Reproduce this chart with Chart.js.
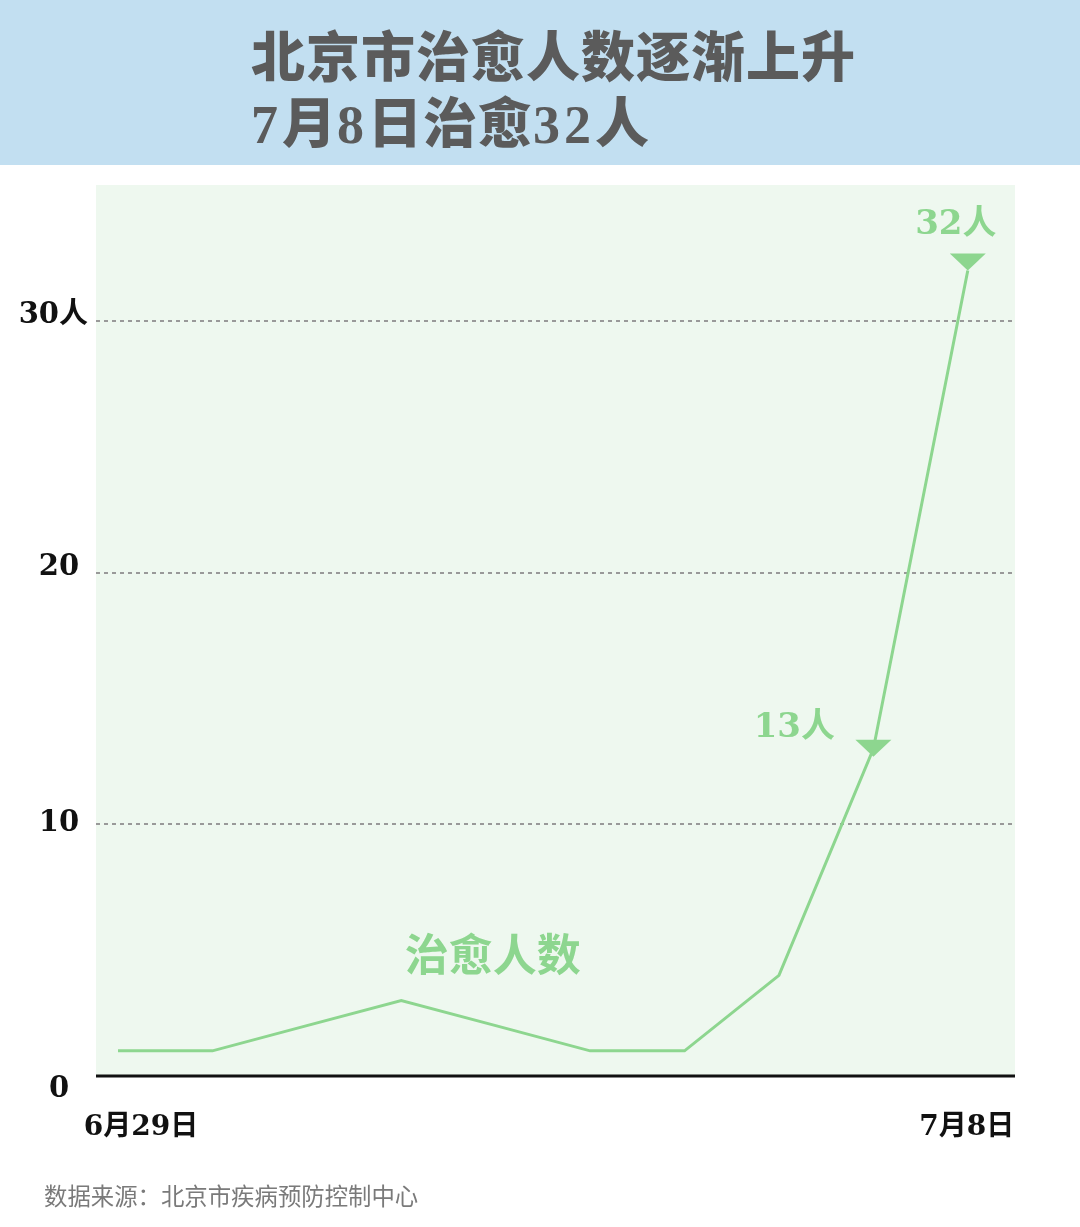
<!DOCTYPE html>
<html><head><meta charset="utf-8">
<script src="https://cdn.jsdelivr.net/npm/chart.js@4/dist/chart.umd.min.js"></script>
<style>
html,body{margin:0;padding:0;background:#fff;}
#wrap{position:relative;width:1080px;height:1227px;overflow:hidden;}
#head{position:absolute;left:0;top:0;width:1080px;height:165px;background:#c2dff1;}
#title{position:absolute;left:251px;top:26px;color:#5b5b5b;font-family:"Liberation Serif","Noto Sans CJK SC",serif;font-weight:900;font-size:54px;line-height:66px;letter-spacing:1px;white-space:nowrap;}
#title .d{letter-spacing:4px;}
#src{position:absolute;left:44px;top:1178px;color:#7a7a7a;font-family:"Noto Sans CJK SC",sans-serif;font-size:23.4px;white-space:nowrap;}
canvas{position:absolute;left:0;top:0;}
</style></head>
<body><div id="wrap">
<div id="head"></div>
<div id="title">北京市治愈人数逐渐上升<br><span class="d">7</span>月<span class="d">8</span>日治愈<span class="d">32</span>人</div>
<canvas id="c" width="1080" height="1227"></canvas>
<div id="src">数据来源：北京市疾病预防控制中心</div>
</div>
<script>
const dates = ["6月29日","6月30日","7月1日","7月2日","7月3日","7月4日","7月5日","7月6日","7月7日","7月8日"];
const recovered = [1, 1, 2, 3, 2, 1, 1, 4, 13, 32];
const yTicks = [0, 10, 20, 30];
const yTickLabels = ["0", "10", "20", "30人"];
const xLabelIndices = [0, 9];
const markedIndices = [8, 9];
const seriesName = "治愈人数";

const GREEN = '#8dd68f';
const serifBold = (s) => `bold ${s}px "DejaVu Serif", "Noto Sans CJK SC", serif`;

const pts = recovered.map((v, i) => ({x: i, y: v}));

const bgPlugin = {
  id: 'bg',
  beforeDraw(chart) {
    const {ctx, chartArea: a} = chart;
    ctx.save();
    ctx.fillStyle = '#eef8ef';
    ctx.fillRect(a.left, a.top, a.right - a.left, a.bottom - a.top);
    ctx.restore();
  },
  afterDatasetsDraw(chart) {
    const {ctx, chartArea: a} = chart;
    const xs = chart.scales.x, ys = chart.scales.y;
    ctx.save();
    // baseline
    ctx.strokeStyle = '#111';
    ctx.lineWidth = 3;
    ctx.beginPath();
    ctx.moveTo(a.left, ys.getPixelForValue(0));
    ctx.lineTo(a.right, ys.getPixelForValue(0));
    ctx.stroke();
    // markers (flat downward triangles)
    ctx.fillStyle = GREEN;
    markedIndices.forEach((idx) => {
      const px = xs.getPixelForValue(idx), py = ys.getPixelForValue(recovered[idx]);
      const top = idx === recovered.length - 1 ? py - 17 : py - 9;
      ctx.beginPath();
      ctx.moveTo(px - 18, top);
      ctx.lineTo(px + 18, top);
      ctx.lineTo(px, top + 17);
      ctx.closePath();
      ctx.fill();
    });
    // y tick labels
    ctx.fillStyle = '#111';
    ctx.font = serifBold(29);
    ctx.textBaseline = 'middle';
    yTicks.forEach((t, i) => {
      const py = ys.getPixelForValue(t);
      const lab = yTickLabels[i];
      if (t === 0) { ctx.textAlign = 'center'; ctx.fillText(lab, 59, py + 13); }
      else if (lab.length > 2) { ctx.textAlign = 'right'; ctx.fillText(lab, 88, py - 5); }
      else { ctx.textAlign = 'center'; ctx.fillText(lab, 59, py - (t === 10 ? 1 : 5)); }
    });
    // x labels
    ctx.textAlign = 'center';
    ctx.font = serifBold(28);
    xLabelIndices.forEach((idx, k) => {
      const px = xs.getPixelForValue(idx) + (k === 0 ? 23 : -1);
      ctx.fillText(dates[idx], px, 1128);
    });
    // value labels
    ctx.fillStyle = GREEN;
    ctx.font = serifBold(34);
    markedIndices.forEach((idx) => {
      const px = xs.getPixelForValue(idx), py = ys.getPixelForValue(recovered[idx]);
      const txt = recovered[idx] + '人';
      if (idx === recovered.length - 1) ctx.fillText(txt, px - 12, py - 45);
      else ctx.fillText(txt, px - 79, py - 21);
    });
    // series name
    ctx.font = 'bold 44px "Noto Sans CJK SC", sans-serif';
    ctx.fillText(seriesName, xs.getPixelForValue(4) - 3, ys.getPixelForValue(4.85));
    ctx.restore();
  }
};

new Chart(document.getElementById('c'), {
  type: 'line',
  data: {
    datasets: [{
      label: seriesName,
      data: pts,
      borderColor: GREEN,
      borderWidth: 3,
      tension: 0,
      pointRadius: 0,
      clip: false
    }]
  },
  options: {
    responsive: false,
    animation: false,
    devicePixelRatio: 1,
    layout: {padding: {left: 96, right: 65, top: 185, bottom: 151}},
    plugins: {legend: {display: false}, tooltip: {enabled: false}},
    scales: {
      x: {
        type: 'linear', min: -0.233, max: 9.5,
        afterFit: s => { s.height = 0; },
        ticks: {display: false},
        grid: {display: false},
        border: {display: false}
      },
      y: {
        min: 0, max: 35.4,
        afterFit: s => { s.width = 0; },
        afterBuildTicks: s => { s.ticks = yTicks.map(v => ({value: v})); },
        ticks: {display: false},
        grid: {
          color: ctx => ctx.tick && ctx.tick.value === 0 ? 'rgba(0,0,0,0)' : '#999',
          lineWidth: 2,
          drawTicks: false
        },
        border: {display: false, dash: [4, 4]}
      }
    }
  },
  plugins: [bgPlugin]
});
</script>
</body></html>
